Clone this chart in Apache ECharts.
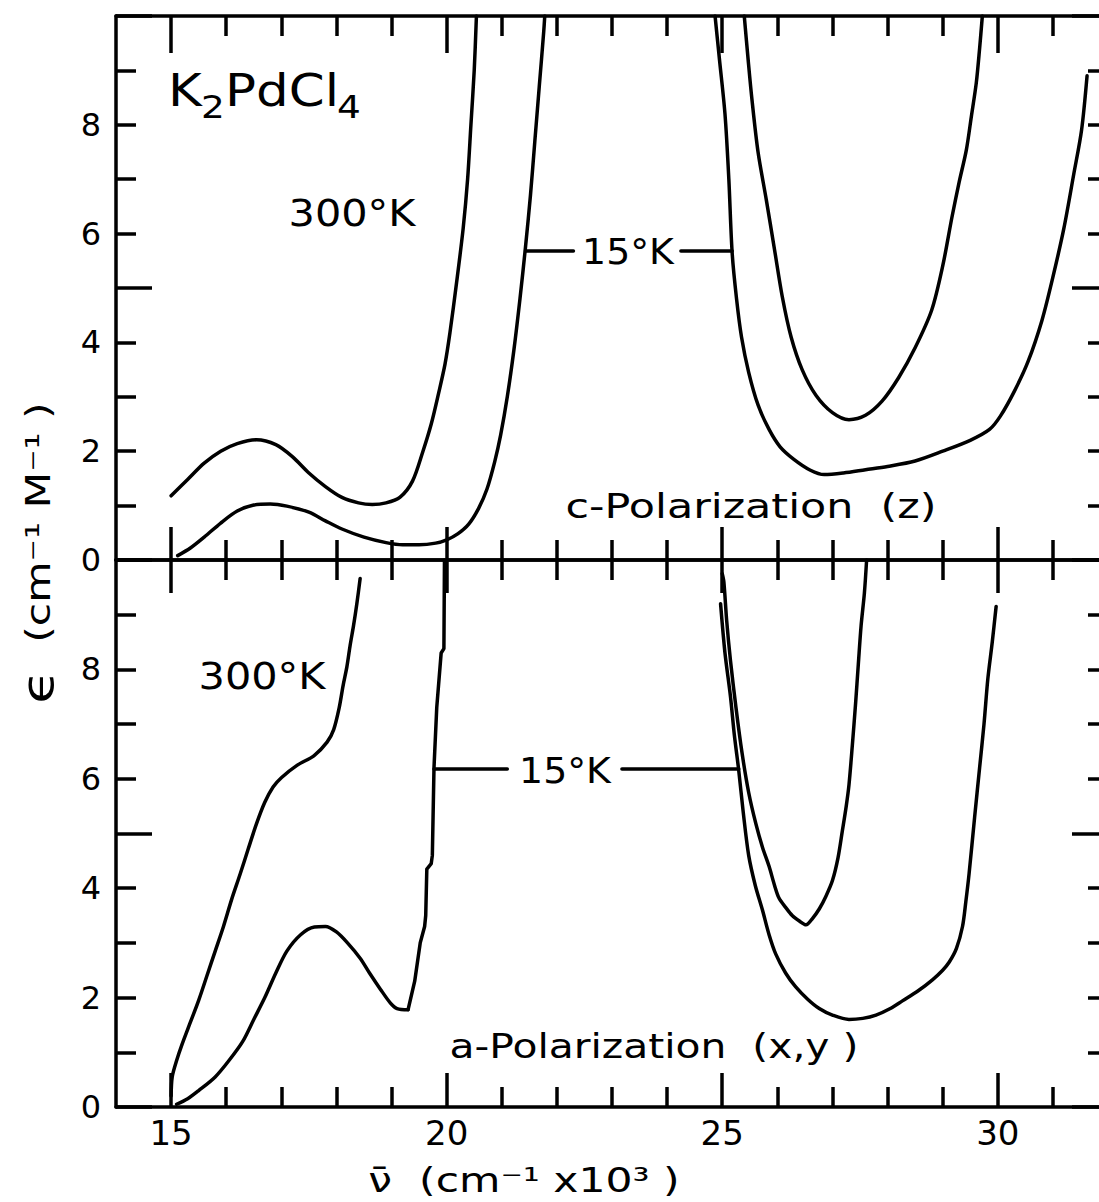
<!DOCTYPE html>
<html><head><meta charset="utf-8">
<script src="https://cdn.jsdelivr.net/npm/echarts@6/dist/echarts.min.js"></script>
<style>html,body{margin:0;padding:0;background:#fff;overflow:hidden}#c{width:1112px;height:1202px}</style>
</head><body><div id="c"></div>
<script>
// ---------- tick values ----------
const xMinorTicks = [16,17,18,19,21,22,23,24,26,27,28,29,31];
const xMajorTicks = [15,20,25,30];
const xTickLabels = [15,20,25,30];
const yTickLabels = [0,2,4,6,8];

// ---------- c-Polarization (z), top panel ----------
const cPol300Left = [[15.0,1.18],[15.3,1.48],[15.6,1.78],[15.9,2.0],[16.2,2.14],[16.55,2.21],[16.9,2.12],[17.2,1.9],[17.5,1.6],[17.8,1.35],[18.1,1.15],[18.4,1.05],[18.65,1.02],[18.9,1.05],[19.15,1.15],[19.38,1.45],[19.57,2.0],[19.72,2.5],[19.85,3.05],[19.97,3.6],[20.06,4.18],[20.18,5.1],[20.3,6.1],[20.38,7.0],[20.44,8.0],[20.5,9.0],[20.54,10.0]];
const cPol15Left = [[15.12,0.08],[15.35,0.22],[15.6,0.42],[15.9,0.68],[16.2,0.9],[16.5,1.01],[16.8,1.03],[17.1,0.99],[17.5,0.88],[17.8,0.72],[18.1,0.57],[18.5,0.42],[18.9,0.32],[19.2,0.28],[19.5,0.28],[19.8,0.31],[20.0,0.37],[20.2,0.48],[20.4,0.66],[20.58,0.95],[20.73,1.3],[20.87,1.8],[20.98,2.3],[21.1,3.0],[21.22,3.86],[21.33,4.8],[21.43,5.75],[21.52,6.7],[21.6,7.7],[21.68,8.7],[21.76,9.7],[21.78,10]];
const cPol15Right = [[24.87,10],[24.95,9.2],[25.05,8.2],[25.12,7.0],[25.18,5.65],[25.26,4.8],[25.35,4.1],[25.48,3.45],[25.65,2.85],[25.85,2.4],[26.05,2.08],[26.3,1.85],[26.6,1.65],[26.85,1.57],[27.2,1.6],[27.6,1.66],[28.0,1.72],[28.5,1.82],[29.0,2.0],[29.5,2.2],[29.85,2.4],[30.05,2.65],[30.3,3.1],[30.55,3.65],[30.8,4.4],[31.0,5.2],[31.2,6.1],[31.38,7.1],[31.52,7.9],[31.62,8.9]];
const cPol300Right = [[25.4,10],[25.47,9.2],[25.54,8.46],[25.65,7.5],[25.8,6.62],[25.95,5.7],[26.09,4.84],[26.25,4.1],[26.45,3.5],[26.7,3.03],[27.0,2.71],[27.3,2.58],[27.6,2.66],[27.9,2.92],[28.2,3.35],[28.5,3.9],[28.8,4.59],[29.0,5.4],[29.17,6.31],[29.3,6.95],[29.43,7.54],[29.52,8.15],[29.61,8.77],[29.67,9.4],[29.72,10]];
const cPolLeader1 = [[21.43,5.68],[22.3,5.68]];
const cPolLeader2 = [[24.25,5.68],[25.18,5.68]];

// ---------- a-Polarization (x,y), bottom panel ----------
const aPol300Left = [[15.0,0.2],[15.02,0.55],[15.1,0.85],[15.2,1.15],[15.35,1.55],[15.5,1.95],[15.65,2.4],[15.8,2.85],[15.95,3.3],[16.1,3.8],[16.25,4.25],[16.4,4.72],[16.55,5.18],[16.7,5.57],[16.85,5.85],[17.0,6.02],[17.29,6.25],[17.59,6.42],[17.83,6.67],[17.95,6.9],[18.05,7.3],[18.12,7.7],[18.19,8.05],[18.25,8.45],[18.31,8.8],[18.37,9.2],[18.43,9.66]];
const aPol15LeftBand = [[15.1,0.05],[15.3,0.15],[15.5,0.3],[15.8,0.55],[16.05,0.85],[16.3,1.2],[16.5,1.6],[16.7,2.0],[16.9,2.45],[17.1,2.85],[17.35,3.15],[17.6,3.29],[17.8,3.3],[18.0,3.2],[18.2,3.0],[18.43,2.72],[18.6,2.45],[18.8,2.15],[18.98,1.9],[19.1,1.8],[19.3,1.78]];
const aPol15LeftEdge = [[19.3,1.78],[19.42,2.3],[19.52,3.0],[19.6,3.3],[19.62,3.5],[19.64,4.35],[19.72,4.45],[19.74,4.6],[19.77,6.2],[19.82,7.3],[19.9,8.3],[19.95,8.38],[19.96,10]];
const aPol15Right = [[24.97,9.2],[25.05,8.3],[25.15,7.5],[25.22,6.8],[25.3,6.15],[25.38,5.4],[25.48,4.6],[25.6,4.05],[25.73,3.6],[25.85,3.15],[25.97,2.8],[26.15,2.45],[26.33,2.2],[26.55,1.97],[26.76,1.8],[27.0,1.68],[27.3,1.6],[27.55,1.62],[27.79,1.68],[28.05,1.8],[28.27,1.94],[28.55,2.12],[28.82,2.33],[29.0,2.5],[29.12,2.65],[29.25,2.9],[29.36,3.3],[29.42,3.75],[29.48,4.27],[29.58,5.3],[29.67,6.2],[29.75,7.0],[29.82,7.83],[29.9,8.5],[29.97,9.15]];
const aPol300Right = [[25.0,9.75],[25.03,9.6],[25.08,8.9],[25.15,8.16],[25.25,7.3],[25.36,6.47],[25.48,5.75],[25.61,5.18],[25.73,4.75],[25.85,4.4],[25.95,4.05],[26.03,3.82],[26.15,3.65],[26.27,3.5],[26.4,3.4],[26.52,3.33],[26.64,3.45],[26.76,3.62],[26.88,3.85],[27.0,4.14],[27.1,4.55],[27.18,5.05],[27.25,5.5],[27.3,5.89],[27.36,6.6],[27.42,7.38],[27.47,8.1],[27.52,8.8],[27.58,9.4],[27.62,10]];
const aPolLeader1 = [[19.77,6.18],[21.1,6.18]];
const aPolLeader2 = [[23.18,6.18],[25.3,6.18]];

// ---------- build ----------
const FONT = 'DejaVu Sans';
const BLACK = '#000';
const LW = 3.5;

function xAx(gridIndex, position, ticks, len, showLine, showLabel) {
  return {
    type: 'value', gridIndex, position, min: 14, max: 32,
    axisLine: {show: showLine, onZero: false, lineStyle: {color: BLACK, width: LW}},
    axisTick: {show: true, inside: true, length: len, customValues: ticks, lineStyle: {color: BLACK, width: LW}},
    axisLabel: showLabel ? {show: true, customValues: xTickLabels, color: BLACK, fontSize: 34, fontFamily: FONT, margin: 9} : {show: false},
    splitLine: {show: false}
  };
}
function yAx(gridIndex, position, showLabel) {
  return {
    type: 'value', gridIndex, position, min: 0, max: 10, interval: 5,
    axisLine: {show: true, onZero: false, lineStyle: {color: BLACK, width: LW}},
    axisTick: {show: true, inside: true, length: 36, lineStyle: {color: BLACK, width: LW}},
    minorTick: {show: true, splitNumber: 5, length: 20, lineStyle: {color: BLACK, width: LW}},
    axisLabel: showLabel ? {show: true, customValues: yTickLabels, color: BLACK, fontSize: 32, fontFamily: FONT, margin: 15} : {show: false},
    splitLine: {show: false}, minorSplitLine: {show: false}
  };
}
function curve(data, xi, yi, smooth) {
  return {type: 'line', data, xAxisIndex: xi, yAxisIndex: yi, smooth: smooth, symbol: 'none',
    lineStyle: {color: BLACK, width: LW, join: 'round', cap: 'round'}, silent: true, animation: false, clip: true};
}
function txt(text, x, y, size, sx, extra, align) {
  return Object.assign({type: 'text', x, y, scaleX: sx, silent: true,
    style: {text, fontSize: size, fontFamily: FONT, fill: BLACK, align: align || 'center', verticalAlign: 'middle'}}, extra || {});
}

const yTitle = txt('{e|ϵ}  (cm⁻¹ M⁻¹ )', 38, 553, 34, 1.25, {rotation: Math.PI / 2});
yTitle.style.rich = {e: {fontSize: 44, fontFamily: FONT}};

const chart = echarts.init(document.getElementById('c'), null, {renderer: 'svg'});
chart.setOption({
  backgroundColor: '#fff',
  animation: false,
  grid: [
    {left: 116, right: 4, top: 16, height: 544},
    {left: 116, right: 4, top: 560, height: 547}
  ],
  xAxis: [
    xAx(0, 'top', xMinorTicks, 20, true, false),
    xAx(0, 'top', xMajorTicks, 37, false, false),
    xAx(0, 'bottom', xMinorTicks, 20, true, false),
    xAx(0, 'bottom', xMajorTicks, 33, false, false),
    xAx(1, 'top', xMinorTicks, 20, true, false),
    xAx(1, 'top', xMajorTicks, 33, false, false),
    xAx(1, 'bottom', xMinorTicks, 20, true, false),
    xAx(1, 'bottom', xMajorTicks, 34, false, true)
  ],
  yAxis: [
    yAx(0, 'left', true),
    yAx(0, 'right', false),
    yAx(1, 'left', true),
    yAx(1, 'right', false)
  ],
  series: [
    curve(cPol300Left, 0, 0, 0.3),
    curve(cPol15Left, 0, 0, 0.3),
    curve(cPol15Right, 0, 0, 0.3),
    curve(cPol300Right, 0, 0, 0.3),
    curve(cPolLeader1, 0, 0, false),
    curve(cPolLeader2, 0, 0, false),
    curve(aPol300Left, 4, 2, 0.3),
    curve(aPol15LeftBand, 4, 2, 0.3),
    curve(aPol15LeftEdge, 4, 2, false),
    curve(aPol15Right, 4, 2, 0.3),
    curve(aPol300Right, 4, 2, 0.3),
    curve(aPolLeader1, 4, 2, false),
    curve(aPolLeader2, 4, 2, false)
  ],
  graphic: [
    txt('K', 168, 91, 44, 1.17, null, 'left'),
    txt('2', 201, 107, 32, 1.17, null, 'left'),
    txt('PdCl', 225, 91, 44, 1.17, null, 'left'),
    txt('4', 337, 107, 32, 1.17, null, 'left'),
    txt('300°K', 352, 213, 37, 1.12),
    txt('15°K', 628, 252, 36, 1.05),
    txt('c-Polarization  (z)', 751, 506, 34, 1.26),
    txt('300°K', 262, 676, 37, 1.12),
    txt('15°K', 565, 771, 36, 1.05),
    txt('a-Polarization  (x,y )', 654, 1046, 34, 1.2),
    txt('ν̄  (cm⁻¹ x10³ )', 524, 1180, 34, 1.25),
    yTitle
  ]
});
</script></body></html>
